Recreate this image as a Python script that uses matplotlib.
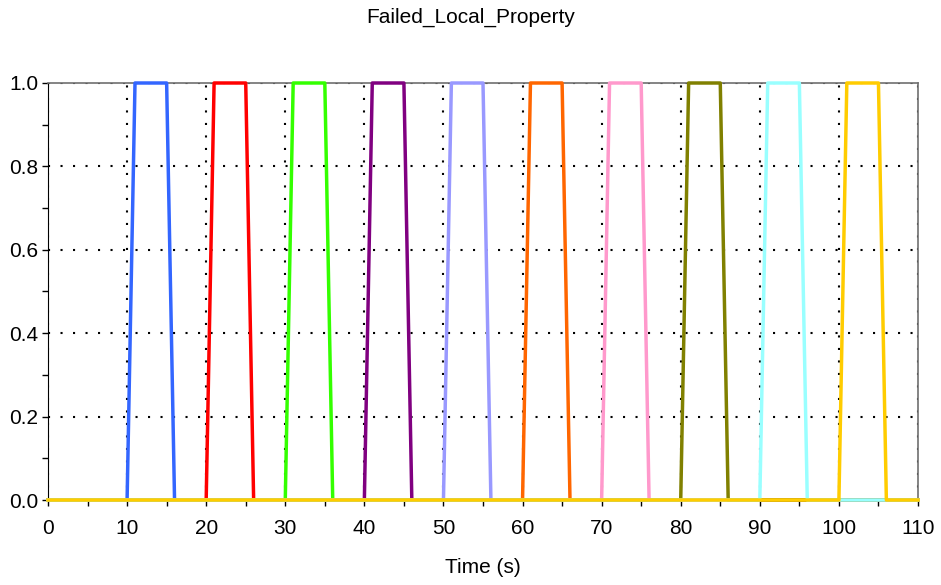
import matplotlib.pyplot as plt
from matplotlib.ticker import MultipleLocator

# each series: time points and value at those points
t_blue = [0, 10, 11, 15, 16, 110]
v_blue = [0, 0, 1, 1, 0, 0]
t_red = [0, 20, 21, 25, 26, 110]
v_red = [0, 0, 1, 1, 0, 0]
t_green = [0, 30, 31, 35, 36, 110]
v_green = [0, 0, 1, 1, 0, 0]
t_purple = [0, 40, 41, 45, 46, 110]
v_purple = [0, 0, 1, 1, 0, 0]
t_lavender = [0, 50, 51, 55, 56, 110]
v_lavender = [0, 0, 1, 1, 0, 0]
t_orange = [0, 60, 61, 65, 66, 110]
v_orange = [0, 0, 1, 1, 0, 0]
t_pink = [0, 70, 71, 75, 76, 110]
v_pink = [0, 0, 1, 1, 0, 0]
t_olive = [0, 80, 81, 85, 86, 110]
v_olive = [0, 0, 1, 1, 0, 0]
t_cyan = [0, 90, 91, 95, 96, 110]
v_cyan = [0, 0, 1, 1, 0, 0]
t_yellow = [0, 100, 101, 105, 106, 110]
v_yellow = [0, 0, 1, 1, 0, 0]

series = [
    (t_blue, v_blue, "#3366ff"),
    (t_red, v_red, "#ff0000"),
    (t_green, v_green, "#33ff00"),
    (t_purple, v_purple, "#800080"),
    (t_lavender, v_lavender, "#9999ff"),
    (t_orange, v_orange, "#ff6600"),
    (t_pink, v_pink, "#ff99cc"),
    (t_olive, v_olive, "#808000"),
    (t_cyan, v_cyan, "#99ffff"),
    (t_yellow, v_yellow, "#ffcc00"),
]

plt.rcParams['font.family'] = ['Liberation Sans', 'DejaVu Sans']

fig = plt.figure(figsize=(9.41, 5.85), dpi=100)
ax = fig.add_axes([48 / 941, 85 / 585, 870 / 941, 417 / 585])

for t, v, c in series:
    ax.plot(t, v, color=c, linewidth=2.5, clip_on=False, zorder=3)

ax.set_xlim(0, 110)
ax.set_ylim(0, 1)
ax.xaxis.set_major_locator(MultipleLocator(10))
ax.xaxis.set_minor_locator(MultipleLocator(5))
ax.yaxis.set_major_locator(MultipleLocator(0.2))
ax.yaxis.set_minor_locator(MultipleLocator(0.1))
ax.yaxis.set_major_formatter(plt.FormatStrFormatter('%.1f'))

ax.tick_params(which='both', direction='out', length=4, width=1, labelsize=15)
ax.tick_params(axis='x', pad=10)
ax.tick_params(axis='y', pad=3)

ax.grid(True, which='major', color='black', linestyle=(0, (1, 5)), linewidth=1.5)
ax.set_axisbelow(True)

for s in ['top', 'right']:
    ax.spines[s].set_color('#707070')
    ax.spines[s].set_linewidth(1.2)
ax.spines['left'].set_color('black')
ax.spines['bottom'].set_color('black')

ax.set_xlabel("Time (s)", fontsize=15, labelpad=14)
fig.text(0.5, 1 - 17 / 585, "Failed_Local_Property", fontsize=15,
         ha='center', va='center')

fig.savefig("out.png", dpi=100)
